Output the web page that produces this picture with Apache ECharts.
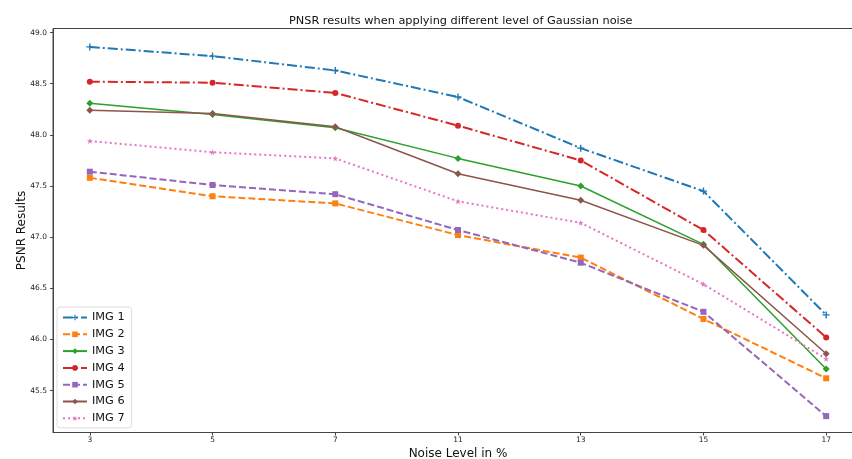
<!DOCTYPE html>
<html>
<head>
<meta charset="utf-8">
<script src="https://cdn.jsdelivr.net/npm/echarts@6/dist/echarts.min.js"></script>
<style>
  html, body { margin: 0; padding: 0; background: #fff; }
  #chart { width: 852px; height: 459px; }
</style>
</head>
<body>
<div id="chart"></div>
<script>
// noise levels (evenly spaced on the x axis)
var noiseLevels = ['3', '5', '7', '11', '13', '15', '17'];
var yTicks = [45.5, 46.0, 46.5, 47.0, 47.5, 48.0, 48.5, 49.0];

var img1 = [48.86, 48.77, 48.63, 48.37, 47.87, 47.45, 46.24];
var img2 = [47.58, 47.40, 47.33, 47.02, 46.80, 46.20, 45.62];
var img3 = [48.31, 48.20, 48.07, 47.77, 47.50, 46.93, 45.71];
var img4 = [48.52, 48.51, 48.41, 48.09, 47.75, 47.07, 46.02];
var img5 = [47.64, 47.51, 47.42, 47.07, 46.75, 46.27, 45.25];
var img6 = [48.24, 48.21, 48.08, 47.62, 47.36, 46.92, 45.86];
var img7 = [47.94, 47.83, 47.77, 47.35, 47.14, 46.54, 45.81];

var plusPath = 'path://M4,0 L6,0 L6,4 L10,4 L10,6 L6,6 L6,10 L4,10 L4,6 L0,6 L0,4 L4,4 Z';
var starPath = 'path://M50,0 L61,35 L98,35 L68,57 L79,91 L50,70 L21,91 L32,57 L2,35 L39,35 Z';

function pts(arr) {
  return arr.map(function (v, i) { return [i, v]; });
}

function mkSeries(name, data, color, dash, width, symbol, size) {
  return {
    name: name,
    type: 'line',
    data: pts(data),
    symbol: symbol,
    symbolSize: size,
    showSymbol: true,
    animation: false,
    itemStyle: { color: color },
    lineStyle: { color: color, width: width, type: dash }
  };
}

var dashDot = [10, 3, 2, 3];
var dashed = [7, 3];
var dotted = [2, 3];

var chart = echarts.init(document.getElementById('chart'));
chart.setOption({
  backgroundColor: '#fff',
  textStyle: { fontFamily: 'DejaVu Sans' },
  title: {
    text: 'PNSR results when applying different level of Gaussian noise',
    left: 284,
    top: 11,
    textStyle: { fontSize: 11.3, fontWeight: 'normal', color: '#111', fontFamily: 'DejaVu Sans' }
  },
  grid: {
    left: 53, width: 810, top: 28.5, bottom: 26.5,
    outerBoundsMode: 'none',
    containLabel: false,
    show: true, borderColor: '#444', borderWidth: 1
  },
  legend: {
    orient: 'vertical',
    left: 57,
    top: 307,
    itemWidth: 24,
    itemHeight: 7,
    itemGap: 5.8,
    padding: [5, 7, 4, 5],
    backgroundColor: 'rgba(255,255,255,0.85)',
    borderColor: '#ddd',
    borderWidth: 1,
    borderRadius: 3,
    textStyle: { fontSize: 11.3, color: '#111', fontFamily: 'DejaVu Sans' },
    data: ['IMG 1', 'IMG 2', 'IMG 3', 'IMG 4', 'IMG 5', 'IMG 6', 'IMG 7']
  },
  xAxis: {
    type: 'value',
    min: -0.3,
    max: 6.3,
    name: 'Noise Level in %',
    nameLocation: 'middle',
    nameGap: 15,
    nameMoveOverlap: false,
    nameTextStyle: { fontSize: 12, color: '#111' },
    axisLine: { onZero: false, lineStyle: { color: '#444' } },
    axisTick: { length: 3, customValues: [0, 1, 2, 3, 4, 5, 6], lineStyle: { color: '#444' } },
    axisLabel: {
      fontSize: 7.5, color: '#222', margin: 4,
      customValues: [0, 1, 2, 3, 4, 5, 6],
      formatter: function (v) { return noiseLevels[Math.round(v)]; }
    },
    splitLine: { show: false }
  },
  yAxis: {
    type: 'value',
    min: 45.09,
    max: 49.04,
    name: 'PSNR Results',
    nameLocation: 'middle',
    nameGap: 25,
    nameMoveOverlap: false,
    nameTextStyle: { fontSize: 12, color: '#111' },
    axisLine: { show: true, onZero: false, lineStyle: { color: '#444' } },
    axisTick: { show: true, length: 3, customValues: yTicks, lineStyle: { color: '#444' } },
    axisLabel: {
      fontSize: 7.5, color: '#222', margin: 6,
      customValues: yTicks,
      formatter: function (v) { return v.toFixed(1); }
    },
    splitLine: { show: false }
  },
  series: [
    mkSeries('IMG 1', img1, '#1f77b4', dashDot, 2, plusPath, 7),
    mkSeries('IMG 2', img2, '#ff7f0e', dashed, 2, 'rect', 6),
    mkSeries('IMG 3', img3, '#2ca02c', 'solid', 1.5, 'diamond', 7),
    mkSeries('IMG 4', img4, '#d62728', dashDot, 2, 'circle', 6),
    mkSeries('IMG 5', img5, '#9467bd', dashed, 2, 'rect', 6),
    mkSeries('IMG 6', img6, '#8c564b', 'solid', 1.5, 'diamond', 7),
    mkSeries('IMG 7', img7, '#e377c2', dotted, 2, starPath, 6)
  ]
});
</script>
</body>
</html>
